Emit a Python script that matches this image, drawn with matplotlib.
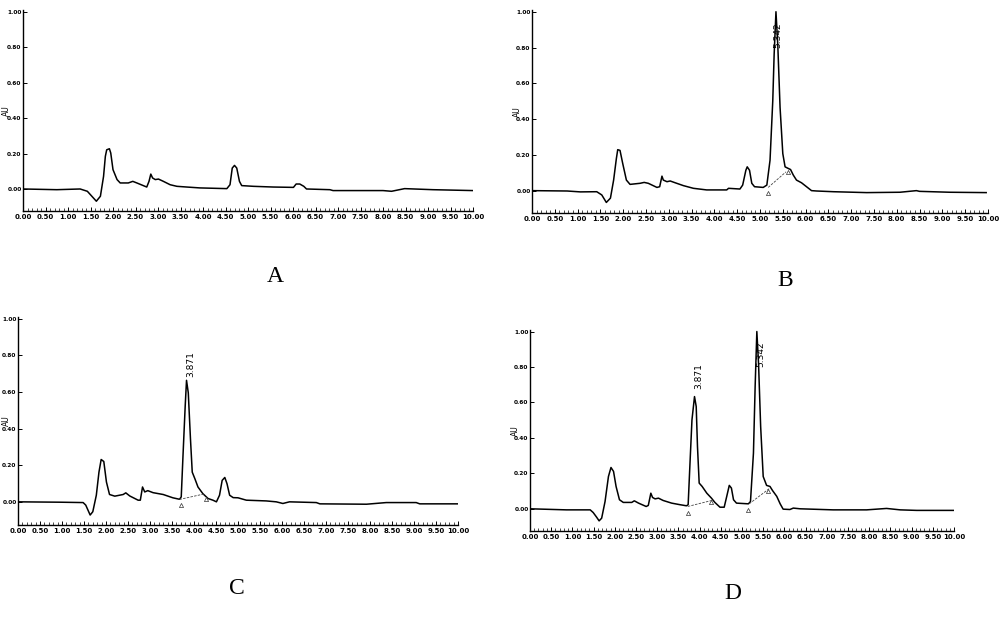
import matplotlib

matplotlib.use("Agg")
import matplotlib.pyplot as plt
from matplotlib.ticker import MultipleLocator, FormatStrFormatter


OUTPUT_FILE = "out.png"

# retention time (min) and absorbance (AU)
TIME_A = [0.00, 0.75, 1.27, 1.43, 1.53, 1.63, 1.72, 1.79, 1.83, 1.86, 1.92, 1.95, 2.00, 2.09,
          2.16, 2.34, 2.44, 2.53, 2.75, 2.80, 2.84, 2.88, 2.94, 3.01, 3.12, 3.27, 3.42, 3.64,
          3.93, 4.53, 4.60, 4.65, 4.70, 4.75, 4.81, 4.86, 5.12, 5.56, 6.01, 6.07, 6.15, 6.24,
          6.30, 6.82, 6.89, 8.00, 8.19, 8.48, 9.11, 10.00]
AU_A = [0.000, -0.004, 0.000, -0.013, -0.041, -0.069, -0.041, 0.071, 0.184, 0.221, 0.227,
        0.203, 0.109, 0.053, 0.034, 0.034, 0.043, 0.034, 0.011, 0.043, 0.084, 0.062, 0.053,
        0.056, 0.043, 0.024, 0.015, 0.011, 0.006, 0.002, 0.024, 0.118, 0.133, 0.118, 0.043,
        0.019, 0.015, 0.011, 0.009, 0.028, 0.028, 0.015, 0.000, -0.004, -0.009, -0.009,
        -0.013, 0.002, -0.004, -0.009]

TIME_B = [0.00, 0.77, 1.06, 1.42, 1.53, 1.63, 1.72, 1.79, 1.85, 1.88, 1.93, 1.99, 2.07, 2.15,
          2.37, 2.46, 2.55, 2.74, 2.80, 2.85, 2.88, 2.96, 3.03, 3.14, 3.32, 3.54, 3.83, 4.27,
          4.31, 4.56, 4.62, 4.69, 4.72, 4.77, 4.82, 4.88, 5.07, 5.15, 5.22, 5.28, 5.31, 5.35,
          5.39, 5.44, 5.50, 5.55, 5.62, 5.67, 5.73, 5.80, 5.91, 6.02, 6.13, 6.24, 6.61, 7.34,
          8.07, 8.43, 8.50, 9.16, 9.96]
AU_B = [0.000, -0.002, -0.007, -0.006, -0.024, -0.066, -0.042, 0.059, 0.179, 0.229, 0.225,
        0.151, 0.059, 0.035, 0.041, 0.046, 0.041, 0.018, 0.022, 0.081, 0.059, 0.050, 0.054,
        0.044, 0.028, 0.013, 0.004, 0.004, 0.013, 0.009, 0.031, 0.114, 0.133, 0.114, 0.041,
        0.022, 0.018, 0.031, 0.170, 0.502, 0.760, 1.000, 0.815, 0.465, 0.207, 0.133, 0.124,
        0.118, 0.087, 0.059, 0.044, 0.022, 0.000, -0.002, -0.006, -0.011, -0.009, 0.000,
        -0.004, -0.009, -0.011]

TIME_C = [0.00, 0.95, 1.48, 1.54, 1.59, 1.64, 1.70, 1.78, 1.84, 1.89, 1.95, 2.01, 2.08, 2.20,
          2.39, 2.45, 2.54, 2.73, 2.78, 2.83, 2.88, 2.95, 3.07, 3.30, 3.52, 3.67, 3.71, 3.75,
          3.80, 3.83, 3.87, 3.92, 3.96, 4.02, 4.09, 4.20, 4.32, 4.43, 4.51, 4.58, 4.64, 4.70,
          4.75, 4.81, 4.89, 5.00, 5.19, 5.64, 5.87, 6.02, 6.17, 6.78, 6.86, 7.92, 8.37, 9.05,
          9.13, 10.00]
AU_C = [0.000, -0.002, -0.004, -0.018, -0.045, -0.072, -0.054, 0.036, 0.162, 0.231, 0.220,
        0.108, 0.040, 0.031, 0.040, 0.049, 0.032, 0.009, 0.009, 0.081, 0.054, 0.061, 0.050,
        0.040, 0.022, 0.014, 0.027, 0.252, 0.523, 0.663, 0.595, 0.342, 0.162, 0.126, 0.081,
        0.045, 0.018, 0.009, 0.000, 0.036, 0.117, 0.133, 0.099, 0.036, 0.023, 0.022, 0.009,
        0.005, 0.000, -0.009, 0.000, -0.004, -0.011, -0.013, -0.004, -0.004, -0.011, -0.011]

TIME_D = [0.00, 0.86, 1.42, 1.49, 1.57, 1.63, 1.69, 1.77, 1.85, 1.91, 1.97, 2.03, 2.11, 2.20,
          2.40, 2.46, 2.56, 2.74, 2.79, 2.85, 2.89, 2.95, 3.03, 3.14, 3.34, 3.54, 3.69, 3.73,
          3.77, 3.82, 3.88, 3.92, 3.95, 3.99, 4.06, 4.17, 4.28, 4.36, 4.48, 4.58, 4.64, 4.70,
          4.75, 4.80, 4.87, 5.15, 5.20, 5.27, 5.31, 5.35, 5.39, 5.44, 5.50, 5.58, 5.66, 5.72,
          5.82, 5.90, 5.97, 6.13, 6.21, 6.37, 7.15, 7.94, 8.41, 8.73, 9.12, 10.00]
AU_D = [0.000, -0.006, -0.006, -0.021, -0.047, -0.068, -0.053, 0.041, 0.182, 0.233, 0.211,
        0.126, 0.051, 0.036, 0.036, 0.045, 0.032, 0.013, 0.019, 0.088, 0.064, 0.056, 0.060,
        0.047, 0.032, 0.023, 0.017, 0.023, 0.239, 0.502, 0.633, 0.577, 0.352, 0.145, 0.126,
        0.088, 0.060, 0.036, 0.009, 0.009, 0.070, 0.132, 0.117, 0.051, 0.032, 0.028, 0.041,
        0.314, 0.690, 1.000, 0.821, 0.464, 0.182, 0.132, 0.126, 0.103, 0.070, 0.028, -0.002,
        -0.004, 0.004, 0.000, -0.006, -0.006, 0.002, -0.006, -0.009, -0.009]

# integration baselines: (t_start, au_start, t_end, au_end)
BASELINES = {
    "A": [],
    "B": [(5.18, 0.018, 5.57, 0.105)],
    "C": [(3.67, 0.013, 4.23, 0.043)],
    "D": [(3.72, 0.013, 4.32, 0.049), (5.17, 0.028, 5.66, 0.117)],
}
# peak start / end markers
MARKERS = {
    "A": [],
    "B": [(5.17, -0.011), (5.62, 0.105)],
    "C": [(3.70, -0.018), (4.27, 0.018)],
    "D": [(3.72, -0.021), (4.26, 0.036), (5.15, -0.009), (5.62, 0.098)],
}
# retention-time labels: (text, t, au)
PEAK_LABELS = {
    "A": [],
    "B": [("5.342", 5.40, 0.87)],
    "C": [("3.871", 3.92, 0.75)],
    "D": [("3.871", 3.97, 0.75), ("5.342", 5.44, 0.87)],
}

PANELS = {
    "A": (TIME_A, AU_A),
    "B": (TIME_B, AU_B),
    "C": (TIME_C, AU_C),
    "D": (TIME_D, AU_D),
}
# axes rectangles in figure fractions, AU label offset and letter positions
AXES_RECTS = {
    "A": [0.023, 0.660, 0.450, 0.324],
    "B": [0.532, 0.657, 0.456, 0.327],
    "C": [0.018, 0.155, 0.440, 0.335],
    "D": [0.530, 0.145, 0.424, 0.324],
}
AU_LABEL_X = {"A": -0.026, "B": -0.022, "C": -0.016, "D": -0.024}
LETTER_POS = {
    "A": (0.275, 0.554),
    "B": (0.785, 0.549),
    "C": (0.237, 0.053),
    "D": (0.733, 0.045),
}


def draw_panel(fig, key: str) -> None:
    ax = fig.add_axes(AXES_RECTS[key])
    times, values = PANELS[key]
    ax.plot(times, values, color="black", linewidth=1.1)

    for t0, y0, t1, y1 in BASELINES[key]:
        ax.plot([t0, t1], [y0, y1], color="#444444", linewidth=0.6, linestyle=(0, (3, 1.5)))
    for t, y in MARKERS[key]:
        ax.plot(t, y, marker="^", markersize=3, markerfacecolor="white",
                markeredgecolor="#333333", markeredgewidth=0.5, linestyle="none")
    for text, t, y in PEAK_LABELS[key]:
        ax.text(t, y, text, rotation=90, fontsize=6.5, ha="center", va="center")

    ax.set_xlim(0, 10)
    ax.set_ylim(-0.125, 1.01)
    ax.spines["top"].set_visible(False)
    ax.spines["right"].set_visible(False)
    ax.spines["left"].set_linewidth(1.0)
    ax.spines["bottom"].set_linewidth(1.0)

    ax.xaxis.set_major_locator(MultipleLocator(0.5))
    ax.xaxis.set_minor_locator(MultipleLocator(0.1))
    ax.xaxis.set_major_formatter(FormatStrFormatter("%.2f"))
    ax.yaxis.set_major_locator(MultipleLocator(0.2))
    ax.yaxis.set_major_formatter(FormatStrFormatter("%.2f"))
    ax.tick_params(axis="x", direction="in", labelsize=5, width=0.7, length=3, pad=2)
    ax.tick_params(axis="y", direction="in", labelsize=4.2, width=0.7, length=3, pad=1)
    ax.tick_params(axis="x", which="minor", direction="in", width=0.5, length=2)
    for label in ax.get_xticklabels() + ax.get_yticklabels():
        label.set_fontweight("bold")

    ax.set_ylabel("AU", fontsize=5.5)
    ax.yaxis.set_label_coords(AU_LABEL_X[key], 0.5)
    ax.patch.set_alpha(0)

    lx, ly = LETTER_POS[key]
    fig.text(lx, ly, key, fontsize=17, family="Liberation Serif", ha="center", va="center")


def main() -> None:
    plt.style.use("default")
    fig = plt.figure(figsize=(10, 6.21), dpi=100)
    for key in PANELS:
        draw_panel(fig, key)
    fig.savefig(OUTPUT_FILE, dpi=100)
    plt.close(fig)


if __name__ == "__main__":
    main()
